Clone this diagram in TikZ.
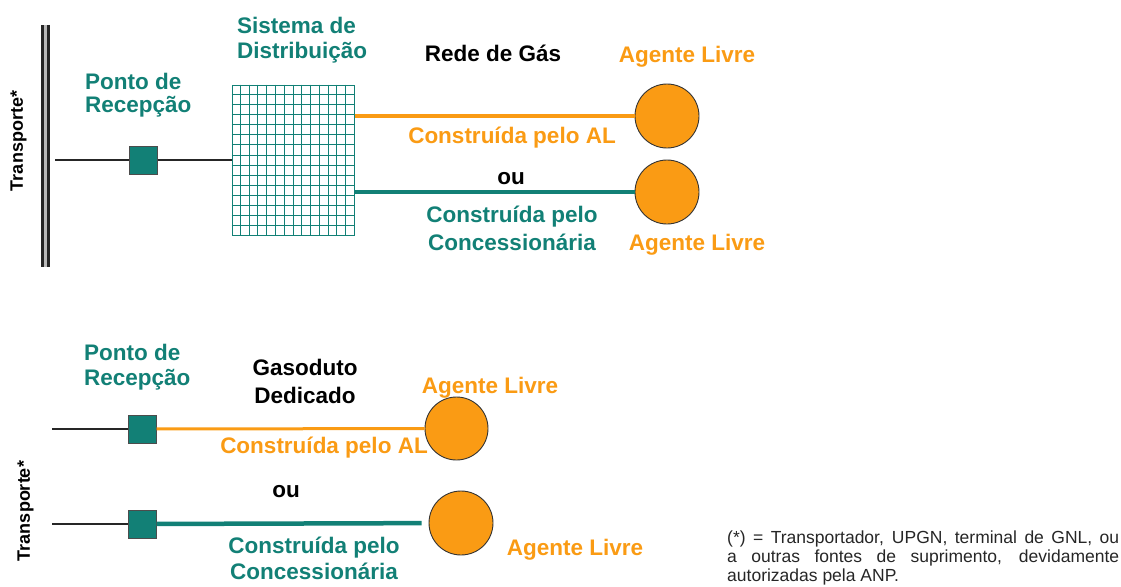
\documentclass[tikz,border=0pt]{standalone}
\usepackage{fontspec}
\setmainfont{Liberation Sans}
\usetikzlibrary{calc,positioning}
\definecolor{gasteal}{RGB}{18,128,118}
\definecolor{gasorange}{RGB}{250,155,20}
\tikzset{
  % text styles
  txt/.style={font=\bfseries\fontsize{22.5}{25}\selectfont,inner sep=0pt,align=center},
  tealtxt/.style={txt,text=gasteal},
  orangetxt/.style={txt,text=gasorange},
  sidetxt/.style={font=\bfseries\fontsize{18}{20}\selectfont,inner sep=0pt,rotate=90},
  note/.style={font=\fontsize{17.5}{19}\selectfont,text=black!85,inner sep=0pt,align=left},
  % node styles (pontos de recepcao, agentes, rede)
  recv/.style={rectangle,draw=black!70,fill=gasteal,minimum size=28pt,inner sep=0pt},
  agent/.style={circle,draw=black!80,line width=0.9pt,fill=gasorange,minimum size=64pt,inner sep=0pt},
  net/.style={rectangle,draw=gasteal,line width=1pt,minimum width=122pt,minimum height=150pt,inner sep=0pt},
  % line styles
  feed/.style={line width=1.1pt,black!85},
  alline/.style={line width=3.5pt,gasorange},
  conline/.style={line width=4.5pt,gasteal},
  netline/.style={gasteal,line width=0.9pt},
  rail/.style={line width=3pt,draw=black!85,double=gray!55,double distance=3pt},
}
\begin{document}
\begin{tikzpicture}[x=1pt,y=-1pt]
  \useasboundingbox (0,0) rectangle (1121,586);
  % rede de distribuicao
  \node[sidetxt] (transpA) at (18.5,141) {Transporte*};
  \draw[rail] (45,25) -- (45,267);
  \coordinate (feedA) at (55,160);
  \node[recv] (recvA) at (143.5,160) {};
  \node[net] (distnet) at (293,160) {};
  \foreach \k in {1,...,13}
    \draw[netline] ($(distnet.north west)!\k/14!(distnet.north east)$) -- ($(distnet.south west)!\k/14!(distnet.south east)$);
  \foreach \k in {1,...,14}
    \draw[netline] ($(distnet.north west)!\k/15!(distnet.south west)$) -- ($(distnet.north east)!\k/15!(distnet.south east)$);
  \node[agent] (agentA) at (667,116) {};
  \node[agent] (agentB) at (667,192) {};
  \draw[feed] (feedA) -- (recvA) -- (distnet);
  \draw[alline] (agentA.west -| distnet.east) -- (agentA);
  \draw[conline] (agentB.west -| distnet.east) -- (agentB);
  \node[tealtxt,align=left,anchor=base west] (pontoA) at (85,112) {Ponto de\\[-2pt]Recepção};
  \node[tealtxt,align=left,anchor=base west] (sistema) at (237,59) {Sistema de\\Distribuição};
  \node[txt,anchor=base] (rede) at (493,61) {Rede de Gás};
  \node[orangetxt,anchor=base] (livreA) at (687,63) {Agente Livre};
  \node[orangetxt,anchor=base] (porAL) at (512,143) {Construída pelo AL};
  \node[txt,anchor=base] (ouA) at (511,184) {ou};
  \node[tealtxt,anchor=base] (porConc) at (512,250) {Construída pelo\\[3pt]Concessionária};
  \node[orangetxt,anchor=base] (livreB) at (697,250) {Agente Livre};
  % gasoduto dedicado
  \node[sidetxt] (transpB) at (25.5,511) {Transporte*};
  \coordinate (feedB) at (52,429);
  \coordinate (feedC) at (52,524);
  \node[recv] (recvB) at (142.5,429) {};
  \node[recv] (recvC) at (142.5,524) {};
  \node[agent,minimum size=63pt] (agentC) at (456.5,428.5) {};
  \node[agent] (agentD) at (461,523) {};
  \draw[feed] (feedB) -- (recvB);
  \draw[feed] (feedC) -- (recvC);
  \draw[alline,line width=3pt] (recvB) -- (agentC);
  \draw[conline,shorten >=7pt] (recvC) -- (agentD);
  \node[tealtxt,align=left,anchor=base west] (pontoB) at (84,385) {Ponto de\\Recepção};
  \node[txt,anchor=base] (gasoduto) at (305,403) {Gasoduto\\[3pt]Dedicado};
  \node[orangetxt,anchor=base] (livreC) at (490,393) {Agente Livre};
  \node[orangetxt,anchor=base] (porALB) at (324,453) {Construída pelo AL};
  \node[txt,anchor=base] (ouB) at (286,497) {ou};
  \node[tealtxt,anchor=base] (porConcB) at (314,579) {Construída pelo\\[1pt]Concessionária};
  \node[orangetxt,anchor=base] (livreD) at (575,555) {Agente Livre};
  % nota
  \node[note,anchor=base west] (nota) at (727,581)
    {\makebox[392pt][s]{(*) = Transportador, UPGN, terminal de GNL, ou}\\
     \makebox[392pt][s]{a outras fontes de suprimento, devidamente}\\
     autorizadas pela ANP.};
\end{tikzpicture}
\end{document}
